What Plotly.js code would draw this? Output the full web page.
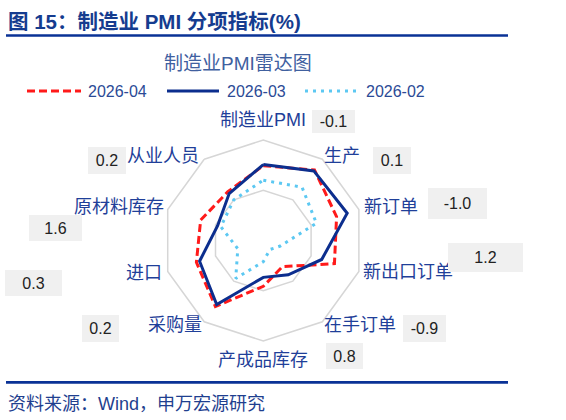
<!DOCTYPE html>
<html><head><meta charset="utf-8">
<script src="https://cdn.plot.ly/plotly-3.0.1.min.js"></script>
<style>html,body{margin:0;padding:0;background:#fff}#chart{width:566px;height:420px}</style>
</head><body><div id="chart"></div>
<script>
// ---- data ----
const categories = ['制造业PMI','生产','新订单','新出口订单','在手订单','产成品库存','采购量','进口','原材料库存','从业人员'];
const seriesNames = ['2026-04','2026-03','2026-02'];
const apr = [49.7, 50.8, 49.9, 49.7, 45.9, 47.1, 50.3, 49.3, 48.9, 48.4];
const mar = [49.8, 50.7, 50.9, 48.5, 46.8, 46.3, 50.1, 49.0, 47.3, 48.2];
const feb = [48.4, 48.9, 48.0, 44.6, 44.0, 44.9, 47.2, 45.4, 47.0, 47.5];
const changeLabels = ['-0.1','0.1','-1.0','1.2','-0.9','0.8','0.2','0.3','1.6','0.2'];
const chartTitle = '制造业PMI雷达图';
const figTitle = '<b>图 15：制造业 PMI 分项指标(%)</b>';
const sourceText = '资料来源：Wind，申万宏源研究';

// ---- layout helpers ----
const W = 566, H = 420;
const px = x => x / W;
const py = y => 1 - y / H;
const FONT = 'Liberation Sans, Arial, Noto Sans CJK SC, sans-serif';

const close = a => a.concat([a[0]]);
const thetaC = close(categories);

const styles = [
  {color:'#ff1a1a', width:3, dash:'8px,4px'},
  {color:'#0c2e8e', width:3, dash:'solid'},
  {color:'#5cc8f2', width:3, dash:'3px,5px'}
];
const allSeries = [apr, mar, feb];

const traces = allSeries.map((s, i) => ({
  type:'scatterpolar', mode:'lines', r: close(s), theta: thetaC,
  name: seriesNames[i], showlegend:false,
  line:{color:styles[i].color, width:styles[i].width, dash:styles[i].dash},
  hoverinfo:'skip'
}));

// polar geometry (pixels)
const cx = 263.3, cy = 240.5, R = 100.5;

// change-value boxes (center px, size)
const boxPos = [
  [333.7,121.7,43,23],[391.7,160.7,38,27],[457,203,59,31],[485,257,75,29],[424,328,43,27],
  [344.7,355.5,37,26],[100.7,328.3,37,27],[33.3,283,57,26],[55,228,53,26],[106.7,160.7,38,27]
];
// category label placement (x px, y px, anchor)
const labelPos = [
  [262.5,120,'center'],[323.3,156,'left'],[362.7,206.7,'left'],[361.7,271.7,'left'],[323.3,325,'left'],
  [262.5,360,'center'],[202.5,325,'right'],[162.7,273,'right'],[165,206.7,'right'],[200,156,'right']
];

const annotations = [];
categories.forEach((c, i) => {
  const p = labelPos[i];
  annotations.push({xref:'paper', yref:'paper', x:px(p[0]), y:py(p[1]), xanchor:p[2], yanchor:'middle',
    text:c, showarrow:false, borderpad:0, font:{family:FONT, size:18, color:'#1f3f99'}});
});
changeLabels.forEach((t, i) => {
  const b = boxPos[i];
  annotations.push({xref:'paper', yref:'paper', x:px(b[0]), y:py(b[1]), xanchor:'center', yanchor:'middle',
    text:t, showarrow:false, bgcolor:'#f0f0f0', borderpad:0, borderwidth:0, width:b[2], height:b[3],
    font:{family:FONT, size:16, color:'#222222'}});
});
annotations.push({xref:'paper', yref:'paper', x:px(6), y:py(21), xanchor:'left', yanchor:'middle',
  text:figTitle, showarrow:false, font:{family:FONT, size:20.5, color:'#153c8f'}});
annotations.push({xref:'paper', yref:'paper', x:px(237.5), y:py(63), xanchor:'center', yanchor:'middle',
  text:chartTitle, showarrow:false, font:{family:FONT, size:19, color:'#40609f'}});
annotations.push({xref:'paper', yref:'paper', x:px(6), y:py(404), xanchor:'left', yanchor:'middle',
  text:sourceText, showarrow:false, font:{family:FONT, size:18, color:'#1f3f8f'}});

// custom legend
const legX = [[27,81,86],[167,219,225],[305,356,364]];
const shapes = [
  {type:'line', xref:'paper', yref:'paper', x0:px(6), x1:px(508), y0:py(35.5), y1:py(35.5), line:{color:'#0a3296', width:2.7}},
  {type:'line', xref:'paper', yref:'paper', x0:px(6), x1:px(508), y0:py(382.3), y1:py(382.3), line:{color:'#0a3296', width:2.7}}
];
seriesNames.forEach((n, i) => {
  const L = legX[i];
  shapes.push({type:'line', xref:'paper', yref:'paper', x0:px(L[0]), x1:px(L[1]), y0:py(91), y1:py(91),
    line:{color:styles[i].color, width:styles[i].width, dash:styles[i].dash}});
  annotations.push({xref:'paper', yref:'paper', x:px(L[2]), y:py(91), xanchor:'left', yanchor:'middle',
    text:n, showarrow:false, font:{family:FONT, size:16, color:'#2b4a96'}});
});

const layout = {
  width:W, height:H, margin:{l:0,r:0,t:0,b:0}, paper_bgcolor:'#ffffff',
  showlegend:false,
  font:{family:FONT},
  polar:{
    domain:{x:[px(cx-R), px(cx+R)], y:[py(cy+R), py(cy-R)]},
    bgcolor:'#ffffff', gridshape:'linear',
    radialaxis:{range:[43,52], tickvals:[47.5], showticklabels:false, ticks:'', showline:false,
      gridcolor:'#d6d6d6', gridwidth:1.5},
    angularaxis:{rotation:90, direction:'clockwise', showgrid:false, showline:true,
      linecolor:'#d6d6d6', linewidth:1.5, ticks:'', showticklabels:false}
  },
  annotations, shapes
};

Plotly.newPlot('chart', traces, layout, {displayModeBar:false, staticPlot:true});
</script>
</body></html>
